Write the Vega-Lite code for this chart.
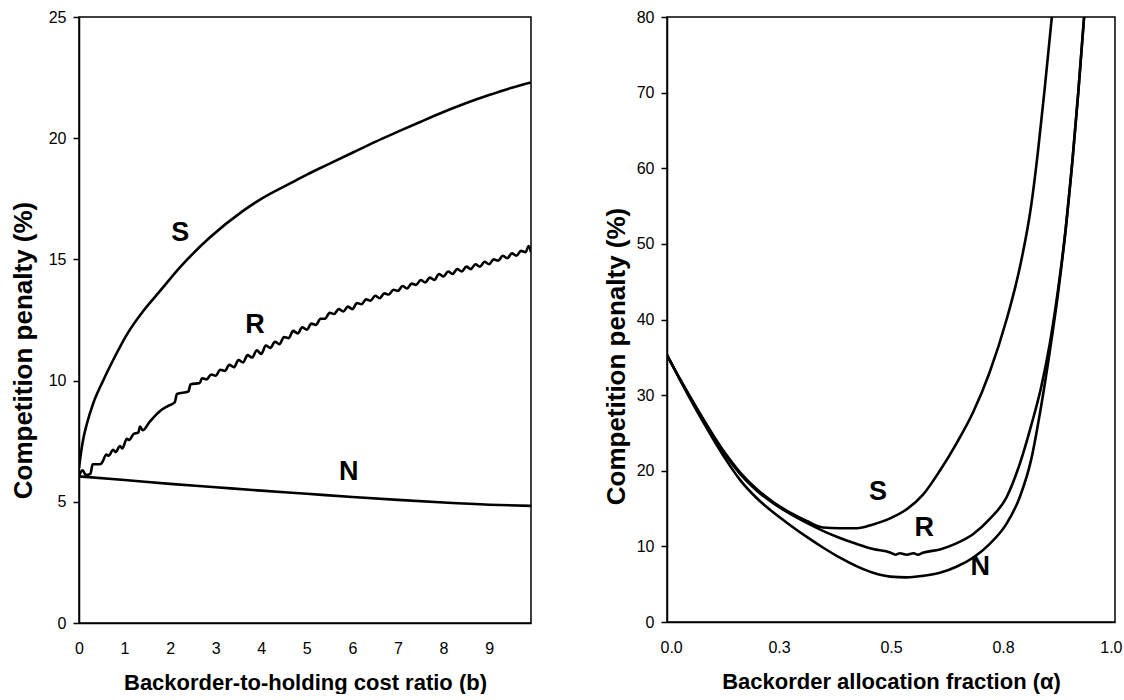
{
  "$schema": "https://vega.github.io/schema/vega-lite/v6.json",
  "background": "white",
  "padding": {"left": 9, "top": 8, "right": 0, "bottom": 0},
  "bounds": "flush",
  "spacing": 136,
  "config": {
    "view": {"stroke": "black", "strokeWidth": 1.5},
    "font": "Liberation Sans",
    "axis": {
      "grid": false,
      "domainColor": "black",
      "domainWidth": 1.5,
      "tickColor": "black",
      "tickWidth": 1.5,
      "labelColor": "black",
      "titleColor": "black",
      "labelFont": "Liberation Sans",
      "labelFontSize": 16,
      "titleFont": "Liberation Sans",
      "titleFontWeight": "bold",
      "labelOverlap": false
    }
  },
  "datasets": {
    "left": [
      {"b": 0, "penalty": 6.4, "policy": "S"},
      {"b": 0.05, "penalty": 7.1, "policy": "S"},
      {"b": 0.1, "penalty": 7.65, "policy": "S"},
      {"b": 0.17, "penalty": 8.2, "policy": "S"},
      {"b": 0.31, "penalty": 9.05, "policy": "S"},
      {"b": 0.53, "penalty": 10.0, "policy": "S"},
      {"b": 0.75, "penalty": 10.85, "policy": "S"},
      {"b": 1.05, "penalty": 11.9, "policy": "S"},
      {"b": 1.41, "penalty": 12.87, "policy": "S"},
      {"b": 1.78, "penalty": 13.7, "policy": "S"},
      {"b": 2.21, "penalty": 14.66, "policy": "S"},
      {"b": 2.87, "penalty": 15.9, "policy": "S"},
      {"b": 3.6, "penalty": 17.0, "policy": "S"},
      {"b": 4.0, "penalty": 17.5, "policy": "S"},
      {"b": 4.7, "penalty": 18.2, "policy": "S"},
      {"b": 5.0, "penalty": 18.5, "policy": "S"},
      {"b": 5.5, "penalty": 18.95, "policy": "S"},
      {"b": 6.0, "penalty": 19.4, "policy": "S"},
      {"b": 6.5, "penalty": 19.85, "policy": "S"},
      {"b": 7.0, "penalty": 20.27, "policy": "S"},
      {"b": 7.5, "penalty": 20.68, "policy": "S"},
      {"b": 8.0, "penalty": 21.08, "policy": "S"},
      {"b": 8.5, "penalty": 21.45, "policy": "S"},
      {"b": 9.0, "penalty": 21.78, "policy": "S"},
      {"b": 9.5, "penalty": 22.08, "policy": "S"},
      {"b": 9.92, "penalty": 22.3, "policy": "S"},
      {"b": 0, "penalty": 6.05, "policy": "N"},
      {"b": 1, "penalty": 5.9, "policy": "N"},
      {"b": 2, "penalty": 5.74, "policy": "N"},
      {"b": 3, "penalty": 5.6, "policy": "N"},
      {"b": 4, "penalty": 5.46, "policy": "N"},
      {"b": 5, "penalty": 5.33, "policy": "N"},
      {"b": 6, "penalty": 5.2, "policy": "N"},
      {"b": 7, "penalty": 5.08, "policy": "N"},
      {"b": 8, "penalty": 4.97, "policy": "N"},
      {"b": 9, "penalty": 4.88, "policy": "N"},
      {"b": 9.92, "penalty": 4.83, "policy": "N"},
      {"b": 0.0, "penalty": 6.06, "policy": "R"},
      {"b": 0.08, "penalty": 6.3, "policy": "R"},
      {"b": 0.15, "penalty": 6.1, "policy": "R"},
      {"b": 0.25, "penalty": 6.15, "policy": "R"},
      {"b": 0.3, "penalty": 6.55, "policy": "R"},
      {"b": 0.45, "penalty": 6.55, "policy": "R"},
      {"b": 0.5, "penalty": 6.6, "policy": "R"},
      {"b": 0.6, "penalty": 6.95, "policy": "R"},
      {"b": 0.65, "penalty": 6.9, "policy": "R"},
      {"b": 0.75, "penalty": 7.15, "policy": "R"},
      {"b": 0.8, "penalty": 7.05, "policy": "R"},
      {"b": 0.9, "penalty": 7.3, "policy": "R"},
      {"b": 0.95, "penalty": 7.2, "policy": "R"},
      {"b": 1.05, "penalty": 7.6, "policy": "R"},
      {"b": 1.1, "penalty": 7.55, "policy": "R"},
      {"b": 1.2, "penalty": 7.8, "policy": "R"},
      {"b": 1.3, "penalty": 7.85, "policy": "R"},
      {"b": 1.34, "penalty": 8.1, "policy": "R"},
      {"b": 1.4, "penalty": 7.95, "policy": "R"},
      {"b": 1.55, "penalty": 8.3, "policy": "R"},
      {"b": 1.78, "penalty": 8.75, "policy": "R"},
      {"b": 1.95, "penalty": 8.95, "policy": "R"},
      {"b": 2.1, "penalty": 9.1, "policy": "R"},
      {"b": 2.15, "penalty": 9.45, "policy": "R"},
      {"b": 2.4, "penalty": 9.55, "policy": "R"},
      {"b": 2.45, "penalty": 9.85, "policy": "R"},
      {"b": 2.65, "penalty": 9.9, "policy": "R"},
      {"b": 2.7, "penalty": 10.1, "policy": "R"},
      {"b": 2.8, "penalty": 10.05, "policy": "R"},
      {"b": 2.9, "penalty": 10.25, "policy": "R"},
      {"b": 3.0, "penalty": 10.2, "policy": "R"},
      {"b": 3.1, "penalty": 10.45, "policy": "R"},
      {"b": 3.2, "penalty": 10.4, "policy": "R"},
      {"b": 3.3, "penalty": 10.65, "policy": "R"},
      {"b": 3.4, "penalty": 10.55, "policy": "R"},
      {"b": 3.5, "penalty": 10.85, "policy": "R"},
      {"b": 3.6, "penalty": 10.75, "policy": "R"},
      {"b": 3.7, "penalty": 11.05, "policy": "R"},
      {"b": 3.8, "penalty": 10.95, "policy": "R"},
      {"b": 3.9, "penalty": 11.25, "policy": "R"},
      {"b": 4.0, "penalty": 11.1, "policy": "R"},
      {"b": 4.1, "penalty": 11.45, "policy": "R"},
      {"b": 4.2, "penalty": 11.35, "policy": "R"},
      {"b": 4.3, "penalty": 11.6, "policy": "R"},
      {"b": 4.4, "penalty": 11.5, "policy": "R"},
      {"b": 4.5, "penalty": 11.8, "policy": "R"},
      {"b": 4.6, "penalty": 11.75, "policy": "R"},
      {"b": 4.7, "penalty": 12.05, "policy": "R"},
      {"b": 4.8, "penalty": 11.95, "policy": "R"},
      {"b": 4.9, "penalty": 12.2, "policy": "R"},
      {"b": 5.0, "penalty": 12.1, "policy": "R"},
      {"b": 5.1, "penalty": 12.35, "policy": "R"},
      {"b": 5.2, "penalty": 12.3, "policy": "R"},
      {"b": 5.3, "penalty": 12.55, "policy": "R"},
      {"b": 5.4, "penalty": 12.55, "policy": "R"},
      {"b": 5.5, "penalty": 12.8, "policy": "R"},
      {"b": 5.6, "penalty": 12.75, "policy": "R"},
      {"b": 5.7, "penalty": 12.95, "policy": "R"},
      {"b": 5.8, "penalty": 12.85, "policy": "R"},
      {"b": 5.9, "penalty": 13.05, "policy": "R"},
      {"b": 6.0, "penalty": 12.95, "policy": "R"},
      {"b": 6.1, "penalty": 13.2, "policy": "R"},
      {"b": 6.2, "penalty": 13.15, "policy": "R"},
      {"b": 6.3, "penalty": 13.35, "policy": "R"},
      {"b": 6.4, "penalty": 13.3, "policy": "R"},
      {"b": 6.5, "penalty": 13.5, "policy": "R"},
      {"b": 6.6, "penalty": 13.4, "policy": "R"},
      {"b": 6.7, "penalty": 13.6, "policy": "R"},
      {"b": 6.8, "penalty": 13.55, "policy": "R"},
      {"b": 6.9, "penalty": 13.75, "policy": "R"},
      {"b": 7.0, "penalty": 13.7, "policy": "R"},
      {"b": 7.1, "penalty": 13.9, "policy": "R"},
      {"b": 7.2, "penalty": 13.8, "policy": "R"},
      {"b": 7.3, "penalty": 14.0, "policy": "R"},
      {"b": 7.4, "penalty": 13.95, "policy": "R"},
      {"b": 7.5, "penalty": 14.15, "policy": "R"},
      {"b": 7.6, "penalty": 14.05, "policy": "R"},
      {"b": 7.7, "penalty": 14.25, "policy": "R"},
      {"b": 7.8, "penalty": 14.15, "policy": "R"},
      {"b": 7.9, "penalty": 14.4, "policy": "R"},
      {"b": 8.0, "penalty": 14.3, "policy": "R"},
      {"b": 8.1, "penalty": 14.5, "policy": "R"},
      {"b": 8.2, "penalty": 14.4, "policy": "R"},
      {"b": 8.3, "penalty": 14.6, "policy": "R"},
      {"b": 8.4, "penalty": 14.5, "policy": "R"},
      {"b": 8.5, "penalty": 14.7, "policy": "R"},
      {"b": 8.6, "penalty": 14.6, "policy": "R"},
      {"b": 8.7, "penalty": 14.8, "policy": "R"},
      {"b": 8.8, "penalty": 14.7, "policy": "R"},
      {"b": 8.9, "penalty": 14.9, "policy": "R"},
      {"b": 9.0, "penalty": 14.8, "policy": "R"},
      {"b": 9.1, "penalty": 15.0, "policy": "R"},
      {"b": 9.2, "penalty": 14.95, "policy": "R"},
      {"b": 9.3, "penalty": 15.15, "policy": "R"},
      {"b": 9.4, "penalty": 15.05, "policy": "R"},
      {"b": 9.5, "penalty": 15.25, "policy": "R"},
      {"b": 9.6, "penalty": 15.15, "policy": "R"},
      {"b": 9.7, "penalty": 15.35, "policy": "R"},
      {"b": 9.8, "penalty": 15.3, "policy": "R"},
      {"b": 9.87, "penalty": 15.55, "policy": "R"},
      {"b": 9.92, "penalty": 15.3, "policy": "R"}
    ],
    "leftLabels": [
      {"b": 2.22, "penalty": 16.1, "label": "S"},
      {"b": 3.86, "penalty": 12.3, "label": "R"},
      {"b": 5.92, "penalty": 6.25, "label": "N"}
    ],
    "right": [
      {"alpha": 0, "penalty": 35.3, "policy": "S"},
      {"alpha": 0.03, "penalty": 32.0, "policy": "S"},
      {"alpha": 0.06, "penalty": 28.9, "policy": "S"},
      {"alpha": 0.1, "penalty": 25.0, "policy": "S"},
      {"alpha": 0.13, "penalty": 22.3, "policy": "S"},
      {"alpha": 0.163, "penalty": 19.8, "policy": "S"},
      {"alpha": 0.2, "penalty": 17.6, "policy": "S"},
      {"alpha": 0.237, "penalty": 15.85, "policy": "S"},
      {"alpha": 0.275, "penalty": 14.45, "policy": "S"},
      {"alpha": 0.312, "penalty": 13.35, "policy": "S"},
      {"alpha": 0.348, "penalty": 12.5, "policy": "S"},
      {"alpha": 0.386, "penalty": 12.4, "policy": "S"},
      {"alpha": 0.424, "penalty": 12.4, "policy": "S"},
      {"alpha": 0.46, "penalty": 12.9, "policy": "S"},
      {"alpha": 0.498, "penalty": 13.7, "policy": "S"},
      {"alpha": 0.535, "penalty": 14.9, "policy": "S"},
      {"alpha": 0.571, "penalty": 16.8, "policy": "S"},
      {"alpha": 0.609, "penalty": 20.0, "policy": "S"},
      {"alpha": 0.646, "penalty": 23.6, "policy": "S"},
      {"alpha": 0.683, "penalty": 27.7, "policy": "S"},
      {"alpha": 0.72, "penalty": 33.0, "policy": "S"},
      {"alpha": 0.758, "penalty": 40.0, "policy": "S"},
      {"alpha": 0.788, "penalty": 47.0, "policy": "S"},
      {"alpha": 0.813, "penalty": 55.1, "policy": "S"},
      {"alpha": 0.828, "penalty": 62.2, "policy": "S"},
      {"alpha": 0.843, "penalty": 70.5, "policy": "S"},
      {"alpha": 0.859, "penalty": 80, "policy": "S"},
      {"alpha": 0, "penalty": 35.3, "policy": "R"},
      {"alpha": 0.03, "penalty": 32.0, "policy": "R"},
      {"alpha": 0.06, "penalty": 28.9, "policy": "R"},
      {"alpha": 0.1, "penalty": 24.9, "policy": "R"},
      {"alpha": 0.13, "penalty": 22.1, "policy": "R"},
      {"alpha": 0.163, "penalty": 19.6, "policy": "R"},
      {"alpha": 0.2, "penalty": 17.4, "policy": "R"},
      {"alpha": 0.237, "penalty": 15.7, "policy": "R"},
      {"alpha": 0.275, "penalty": 14.3, "policy": "R"},
      {"alpha": 0.312, "penalty": 13.1, "policy": "R"},
      {"alpha": 0.348, "penalty": 12.05, "policy": "R"},
      {"alpha": 0.386, "penalty": 11.1, "policy": "R"},
      {"alpha": 0.424, "penalty": 10.3, "policy": "R"},
      {"alpha": 0.46, "penalty": 9.65, "policy": "R"},
      {"alpha": 0.498, "penalty": 9.2, "policy": "R"},
      {"alpha": 0.51, "penalty": 8.9, "policy": "R"},
      {"alpha": 0.52, "penalty": 9.1, "policy": "R"},
      {"alpha": 0.535, "penalty": 8.9, "policy": "R"},
      {"alpha": 0.55, "penalty": 9.1, "policy": "R"},
      {"alpha": 0.56, "penalty": 8.9, "policy": "R"},
      {"alpha": 0.571, "penalty": 9.15, "policy": "R"},
      {"alpha": 0.609, "penalty": 9.6, "policy": "R"},
      {"alpha": 0.646, "penalty": 10.4, "policy": "R"},
      {"alpha": 0.683, "penalty": 11.6, "policy": "R"},
      {"alpha": 0.72, "penalty": 13.6, "policy": "R"},
      {"alpha": 0.758, "penalty": 16.5, "policy": "R"},
      {"alpha": 0.788, "penalty": 21.0, "policy": "R"},
      {"alpha": 0.813, "penalty": 26.0, "policy": "R"},
      {"alpha": 0.835, "penalty": 31.0, "policy": "R"},
      {"alpha": 0.855, "penalty": 37.0, "policy": "R"},
      {"alpha": 0.873, "penalty": 44.0, "policy": "R"},
      {"alpha": 0.89, "penalty": 52.0, "policy": "R"},
      {"alpha": 0.905, "penalty": 61.0, "policy": "R"},
      {"alpha": 0.918, "penalty": 70.0, "policy": "R"},
      {"alpha": 0.931, "penalty": 80, "policy": "R"},
      {"alpha": 0, "penalty": 35.3, "policy": "N"},
      {"alpha": 0.03, "penalty": 31.9, "policy": "N"},
      {"alpha": 0.06, "penalty": 28.6, "policy": "N"},
      {"alpha": 0.1, "penalty": 24.5, "policy": "N"},
      {"alpha": 0.13, "penalty": 21.6, "policy": "N"},
      {"alpha": 0.163, "penalty": 18.8, "policy": "N"},
      {"alpha": 0.2, "penalty": 16.4, "policy": "N"},
      {"alpha": 0.237, "penalty": 14.5, "policy": "N"},
      {"alpha": 0.275, "penalty": 12.8, "policy": "N"},
      {"alpha": 0.312, "penalty": 11.25, "policy": "N"},
      {"alpha": 0.348, "penalty": 9.85, "policy": "N"},
      {"alpha": 0.386, "penalty": 8.5, "policy": "N"},
      {"alpha": 0.424, "penalty": 7.35, "policy": "N"},
      {"alpha": 0.46, "penalty": 6.5, "policy": "N"},
      {"alpha": 0.498, "penalty": 6.0, "policy": "N"},
      {"alpha": 0.535, "penalty": 5.9, "policy": "N"},
      {"alpha": 0.571, "penalty": 6.1, "policy": "N"},
      {"alpha": 0.609, "penalty": 6.5, "policy": "N"},
      {"alpha": 0.646, "penalty": 7.3, "policy": "N"},
      {"alpha": 0.683, "penalty": 8.5, "policy": "N"},
      {"alpha": 0.72, "penalty": 10.3, "policy": "N"},
      {"alpha": 0.758, "penalty": 13.0, "policy": "N"},
      {"alpha": 0.788, "penalty": 16.6, "policy": "N"},
      {"alpha": 0.813, "penalty": 21.5, "policy": "N"},
      {"alpha": 0.835, "penalty": 28.5, "policy": "N"},
      {"alpha": 0.855, "penalty": 36.0, "policy": "N"},
      {"alpha": 0.873, "penalty": 43.5, "policy": "N"},
      {"alpha": 0.89, "penalty": 52.0, "policy": "N"},
      {"alpha": 0.905, "penalty": 61.0, "policy": "N"},
      {"alpha": 0.918, "penalty": 70.0, "policy": "N"},
      {"alpha": 0.931, "penalty": 80, "policy": "N"}
    ],
    "rightLabels": [
      {"alpha": 0.471, "penalty": 17.2, "label": "S"},
      {"alpha": 0.574, "penalty": 12.4, "label": "R"},
      {"alpha": 0.699, "penalty": 7.3, "label": "N"}
    ]
  },
  "hconcat": [
    {
      "width": 452,
      "height": 606,
      "layer": [
        {
          "data": {"name": "left"},
          "mark": {"type": "line", "color": "black", "strokeWidth": 2.6, "clip": true, "interpolate": "monotone"},
          "encoding": {
            "x": {
              "field": "b", "type": "quantitative",
              "scale": {"domain": [0, 9.92], "nice": false, "zero": false},
              "axis": {
                "values": [0, 1, 2, 3, 4, 5, 6, 7, 8, 9],
                "ticks": false, "tickSize": 0, "labelPadding": 17, "labelFlush": false,
                "title": "Backorder-to-holding cost ratio (b)",
                "titleFontSize": 22, "titleX": 226, "titleY": 66, "titleBaseline": "alphabetic"
              }
            },
            "y": {
              "field": "penalty", "type": "quantitative",
              "scale": {"domain": [0, 25], "nice": false},
              "axis": {
                "values": [0, 5, 10, 15, 20, 25],
                "tickSize": 6, "labelPadding": 7,
                "title": "Competition penalty (%)",
                "titleFontSize": 26, "titleX": -56, "titleY": 333, "titleBaseline": "middle"
              }
            },
            "detail": {"field": "policy"}
          }
        },
        {
          "data": {"name": "leftLabels"},
          "mark": {"type": "text", "fontSize": 27, "fontWeight": "bold", "color": "black", "font": "Liberation Sans", "baseline": "middle", "align": "center"},
          "encoding": {
            "x": {"field": "b", "type": "quantitative"},
            "y": {"field": "penalty", "type": "quantitative"},
            "text": {"field": "label"}
          }
        }
      ]
    },
    {
      "width": 448,
      "height": 605,
      "layer": [
        {
          "data": {"name": "right"},
          "mark": {"type": "line", "color": "black", "strokeWidth": 2.6, "clip": true, "interpolate": "monotone"},
          "encoding": {
            "x": {
              "field": "alpha", "type": "quantitative",
              "scale": {"domain": [0, 1], "nice": false, "zero": false},
              "axis": {
                "values": [0, 0.25, 0.5, 0.75, 1], "format": ".1f",
                "ticks": false, "tickSize": 0, "labelPadding": 17,
                "labelFlush": true, "labelFlushOffset": 7,
                "title": "Backorder allocation fraction (α)",
                "titleFontSize": 22, "titleX": 224, "titleY": 66, "titleBaseline": "alphabetic"
              }
            },
            "y": {
              "field": "penalty", "type": "quantitative",
              "scale": {"domain": [0, 80], "nice": false},
              "axis": {
                "values": [0, 10, 20, 30, 40, 50, 60, 70, 80],
                "tickSize": 6, "labelPadding": 7,
                "title": "Competition penalty (%)",
                "titleFontSize": 26, "titleX": -51, "titleY": 339, "titleBaseline": "middle"
              }
            },
            "detail": {"field": "policy"}
          }
        },
        {
          "data": {"name": "rightLabels"},
          "mark": {"type": "text", "fontSize": 27, "fontWeight": "bold", "color": "black", "font": "Liberation Sans", "baseline": "middle", "align": "center"},
          "encoding": {
            "x": {"field": "alpha", "type": "quantitative"},
            "y": {"field": "penalty", "type": "quantitative"},
            "text": {"field": "label"}
          }
        }
      ]
    }
  ]
}
